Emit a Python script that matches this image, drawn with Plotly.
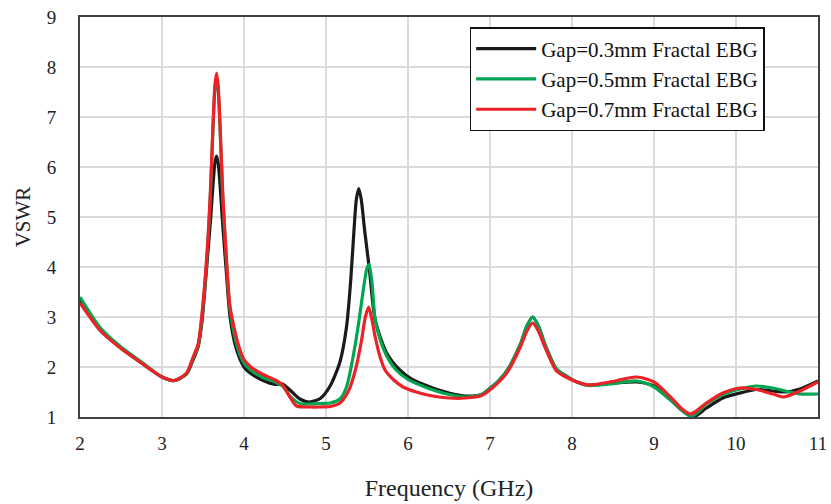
import plotly.graph_objects as go

# ---- data ----
freq_03 = [2.0, 2.25, 2.5, 2.75, 3.0, 3.15, 3.3, 3.38, 3.44, 3.49, 3.55, 3.59, 3.62, 3.645, 3.665, 3.685, 3.71, 3.74, 3.78,
           3.83, 3.9, 4.0, 4.1, 4.22, 4.38, 4.47, 4.56, 4.68, 4.8, 4.93, 5.05, 5.17, 5.25, 5.3, 5.34, 5.37, 5.4, 5.43, 5.47,
           5.53, 5.6, 5.74, 5.9, 6.05, 6.27, 6.5, 6.7, 6.9, 7.02, 7.12, 7.22, 7.37, 7.45, 7.52, 7.59, 7.67, 7.81, 7.95, 8.06,
           8.2, 8.46, 8.79, 9.0, 9.2, 9.35, 9.48, 9.64, 9.84, 10.05, 10.25, 10.45, 10.6, 10.78, 11.0]
vswr_03 = [3.35, 2.74, 2.38, 2.08, 1.8, 1.73, 1.86, 2.15, 2.4, 2.95, 4.1, 4.9, 5.6, 6.08, 6.22, 6.08, 5.6, 4.85, 4.0,
           3.0, 2.4, 2.0, 1.85, 1.74, 1.65, 1.66, 1.54, 1.36, 1.3, 1.37, 1.62, 2.1, 2.8, 3.7, 4.7, 5.35, 5.57, 5.35, 4.75,
           3.94, 2.94, 2.28, 1.94, 1.75, 1.6, 1.48, 1.42, 1.45, 1.6, 1.75, 1.96, 2.45, 2.82, 3.0, 2.82, 2.45, 1.96, 1.8, 1.7,
           1.64, 1.67, 1.7, 1.62, 1.35, 1.12, 1.0, 1.18, 1.38, 1.48, 1.55, 1.52, 1.5, 1.56, 1.72]

freq_05 = [2.0, 2.25, 2.5, 2.75, 3.0, 3.15, 3.3, 3.38, 3.44, 3.49, 3.55, 3.59, 3.62, 3.645, 3.665, 3.685, 3.71, 3.74, 3.78,
           3.83, 3.92, 4.0, 4.1, 4.22, 4.38, 4.47, 4.56, 4.68, 4.8, 4.93, 5.05, 5.17, 5.25, 5.33, 5.4, 5.46, 5.5, 5.525, 5.56,
           5.6, 5.67, 5.74, 5.85, 6.0, 6.27, 6.5, 6.7, 6.9, 7.02, 7.12, 7.22, 7.37, 7.45, 7.52, 7.59, 7.67, 7.81, 7.95, 8.06,
           8.2, 8.46, 8.79, 9.0, 9.2, 9.35, 9.44, 9.5, 9.64, 9.84, 10.05, 10.25, 10.45, 10.6, 10.78, 11.0]
vswr_05 = [3.4, 2.78, 2.4, 2.1, 1.8, 1.73, 1.87, 2.18, 2.42, 3.05, 4.25, 5.45, 6.7, 7.55, 7.8, 7.55, 6.7, 5.45, 4.3,
           3.15, 2.4, 2.08, 1.92, 1.8, 1.7, 1.62, 1.42, 1.27, 1.26, 1.27, 1.28, 1.36, 1.6, 2.2, 2.9, 3.6, 3.98, 4.05, 3.7,
           2.94, 2.5, 2.22, 1.95, 1.75, 1.56, 1.45, 1.4, 1.45, 1.6, 1.75, 1.96, 2.45, 2.82, 3.0, 2.82, 2.45, 1.96, 1.8, 1.7,
           1.63, 1.66, 1.72, 1.6, 1.34, 1.12, 1.02, 1.05, 1.26, 1.45, 1.56, 1.62, 1.58, 1.52, 1.46, 1.46]

freq_07 = [2.0, 2.25, 2.5, 2.75, 3.0, 3.15, 3.3, 3.38, 3.44, 3.49, 3.55, 3.59, 3.62, 3.645, 3.665, 3.685, 3.71, 3.74, 3.78,
           3.83, 3.93, 4.0, 4.1, 4.22, 4.38, 4.47, 4.56, 4.64, 4.8, 4.93, 5.05, 5.17, 5.28, 5.36, 5.43, 5.48, 5.52, 5.56, 5.6,
           5.66, 5.72, 5.82, 5.94, 6.1, 6.3, 6.5, 6.7, 6.9, 7.02, 7.12, 7.22, 7.37, 7.45, 7.52, 7.59, 7.67, 7.81, 7.95, 8.06,
           8.2, 8.46, 8.79, 9.0, 9.2, 9.35, 9.44, 9.5, 9.64, 9.84, 10.05, 10.25, 10.45, 10.58, 10.78, 11.0]
vswr_07 = [3.28, 2.72, 2.37, 2.08, 1.8, 1.73, 1.88, 2.2, 2.45, 3.1, 4.3, 5.5, 6.75, 7.62, 7.88, 7.62, 6.75, 5.5, 4.3,
           3.2, 2.45, 2.15, 1.98, 1.86, 1.74, 1.64, 1.4, 1.22, 1.2, 1.2, 1.21, 1.28, 1.54, 1.95, 2.5, 3.0, 3.2, 2.95, 2.6,
           2.2, 1.94, 1.75, 1.6, 1.5, 1.42, 1.38, 1.38, 1.43, 1.57, 1.72, 1.92, 2.4, 2.72, 2.88, 2.72, 2.4, 1.92, 1.78, 1.7,
           1.64, 1.7, 1.8, 1.7, 1.4, 1.15, 1.06, 1.1, 1.28, 1.48, 1.58, 1.55, 1.46, 1.4, 1.52, 1.7]

series_names = ["Gap=0.3mm Fractal EBG", "Gap=0.5mm Fractal EBG", "Gap=0.7mm Fractal EBG"]
series_colors = ["#1a1a1a", "#00a651", "#ec2227"]

x_ticks = [2, 3, 4, 5, 6, 7, 8, 9, 10, 11]
y_ticks = [1, 2, 3, 4, 5, 6, 7, 8, 9]

FONT = "Liberation Serif, Times New Roman, serif"

fig = go.Figure()
for i, (fx, vy) in enumerate([(freq_03, vswr_03), (freq_05, vswr_05), (freq_07, vswr_07)]):
    fig.add_trace(go.Scatter(
        x=fx, y=vy, mode="lines", name=series_names[i],
        line=dict(color=series_colors[i], width=3.2, shape="spline", smoothing=0.7),
    ))

axis_common = dict(
    showgrid=True, gridcolor="#d9dbe1", gridwidth=1.5,
    showline=True, linecolor="#404040", linewidth=2, mirror=True,
    zeroline=False, ticks="", automargin=False,
    tickfont=dict(family=FONT, size=19, color="#222222"),
)

fig.update_layout(
    width=831, height=504,
    margin=dict(l=80, r=13, t=17, b=87),
    paper_bgcolor="white", plot_bgcolor="white",
    showlegend=True,
    legend=dict(
        x=0.528, y=0.975, xanchor="left", yanchor="top",
        bgcolor="white", bordercolor="#111111", borderwidth=1.5,
        font=dict(family=FONT, size=21, color="#111111"),
        tracegroupgap=0, itemwidth=60,
    ),
    xaxis=dict(range=[2, 11], tickvals=x_ticks, ticktext=[str(t) for t in x_ticks],
               title=dict(text="Frequency (GHz)", font=dict(family=FONT, size=24, color="#222222"), standoff=26),
               ticklabelstandoff=8, **axis_common),
    yaxis=dict(range=[1, 9], tickvals=y_ticks, ticktext=[str(t) for t in y_ticks],
               title=dict(text="VSWR", font=dict(family=FONT, size=21, color="#222222"), standoff=10),
               ticklabelstandoff=18, **axis_common),
)

fig.write_html("out.html")
